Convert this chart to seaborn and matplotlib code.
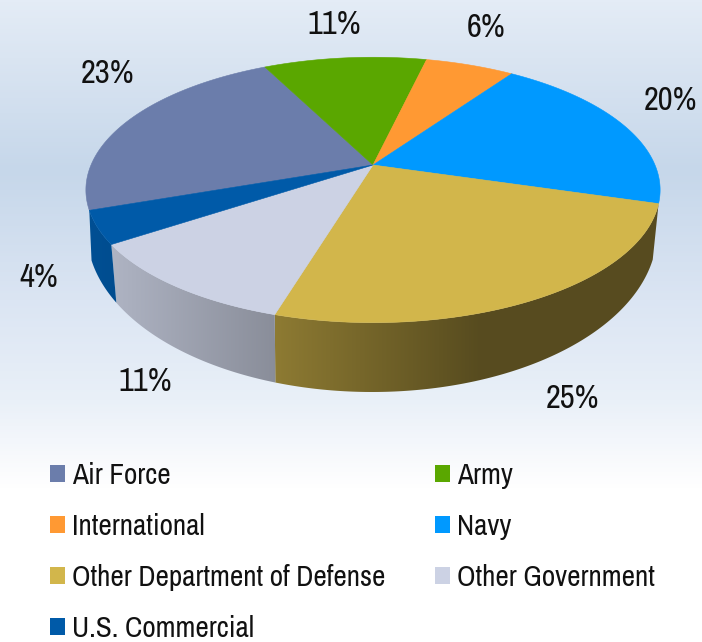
import numpy as np
import matplotlib
matplotlib.use("Agg")
import matplotlib.pyplot as plt
from matplotlib.colors import LinearSegmentedColormap, to_rgb
from matplotlib.patches import Patch, Polygon
import seaborn as sns

categories = ["Air Force", "Army", "International", "Navy",
              "Other Department of Defense", "Other Government", "U.S. Commercial"]
shares = [23, 11, 6, 20, 25, 11, 4]
colors = ["#6b7dab", "#5aa700", "#ff9933", "#0099ff", "#d2b64b", "#ccd2e4", "#005aa8"]

sns.set_theme(style="white")
plt.rcParams["font.family"] = ["Archivo Narrow", "Liberation Sans"]
palette = sns.color_palette(colors)

WIDTH, HEIGHT = 702, 642
FONT_SIZE = 21
LABEL_SIZE = 23.5
fig = plt.figure(figsize=(WIDTH / 100, HEIGHT / 100), dpi=100)
ax = fig.add_axes([0, 0, 1, 1])
ax.axis("off")

# Page background: vertical wash that fades to white above the legend
bg_stops = [(0.0, "#e4ecf6"), (170 / 490, "#c6d7ea"), (300 / 490, "#dbe5f3"),
            (400 / 490, "#e9f0f8"), (440 / 490, "#f3f6fb"), (1.0, "#ffffff")]
bg_cmap = LinearSegmentedColormap.from_list("wash", bg_stops)
ax.imshow(np.linspace(0, 1, 490)[:, None], cmap=bg_cmap, extent=(0, WIDTH, 490, 0),
          aspect="auto", zorder=0)

# Tilted-disc projection of the pie's top face, in pixel-sized axis units
CX, CY, RX, RY, TILT = 373.0, 165.0, 282.0, 128.0, 0.188
# Lower rim of the side wall
LOW_CX, LOW_CY, LOW_RX, LOW_RY = 372.0, 232.0, 285.0, 160.0
START_ANGLE = 199.4


def rim(theta):
    t = np.radians(theta)
    s = 1.0 / (1.0 + TILT * np.sin(t))
    return CX + RX * np.cos(t) * s, CY - RY * np.sin(t) * s


def lower_rim(theta):
    # Front angles below zero map onto the wall's lower ellipse
    p = np.radians(np.where(theta > 180, theta - 360, theta) * 1.11 + 8.5)
    return LOW_CX + LOW_RX * np.cos(p), LOW_CY - LOW_RY * np.sin(p)


def wall_brightness(x):
    return np.interp(x, [90, 270, 480, 702], [0.88, 0.68, 0.415, 0.415])


fractions = np.array(shares) / sum(shares)
edges = START_ANGLE - 360 * np.concatenate([[0], np.cumsum(fractions)])

xs = np.arange(WIDTH) + 0.5
for i, colour in enumerate(palette):
    th0, th1 = edges[i], edges[i + 1]
    if np.sin(np.radians((th0 + th1) / 2)) >= 0:
        continue
    arc = np.linspace(th0, th1, 120)
    tx, ty = rim(arc)
    bx, by = lower_rim(arc)
    outline = np.column_stack([np.r_[tx, bx[::-1]], np.r_[ty, by[::-1]]])
    shade = np.clip(np.outer(wall_brightness(xs), to_rgb(colour)), 0, 1)[None, :, :]
    img = ax.imshow(shade, extent=(0, WIDTH, HEIGHT, 0), aspect="auto", zorder=1 + 0.01 * i)
    clip = Polygon(outline, closed=True, transform=ax.transData, facecolor="none", edgecolor="none")
    ax.add_patch(clip)
    img.set_clip_path(clip)

for i, colour in enumerate(palette):
    arc = np.linspace(edges[i], edges[i + 1], 160)
    tx, ty = rim(arc)
    ax.fill(np.r_[CX, tx], np.r_[CY, ty], color=colour, lw=0.4, zorder=2)

label_xy = [(107, 74), (334, 25), (486, 28), (670, 101), (572, 399), (145, 382), (39, 278)]
for (lx, ly), v in zip(label_xy, shares):
    ax.text(lx, ly, f"{v}%", ha="center", va="center", fontsize=LABEL_SIZE, color="#111111", zorder=3)

handles = [Patch(facecolor=c, edgecolor="none", label=n) for n, c in zip(categories, palette)]
# Rows fill left to right, so feed the legend its columns in that order
order = [0, 2, 4, 6, 1, 3, 5]
ax.legend([handles[i] for i in order], [categories[i] for i in order],
          ncol=2, frameon=False, fontsize=FONT_SIZE, labelcolor="#111111",
          loc="upper left", bbox_to_anchor=(50, 462), bbox_transform=ax.transData,
          borderaxespad=0, borderpad=0, handlelength=0.52, handleheight=0.55,
          handletextpad=0.24, labelspacing=0.82, columnspacing=1.68)

ax.set_xlim(0, WIDTH)
ax.set_ylim(HEIGHT, 0)
fig.savefig("out.png", dpi=100, facecolor="white")
